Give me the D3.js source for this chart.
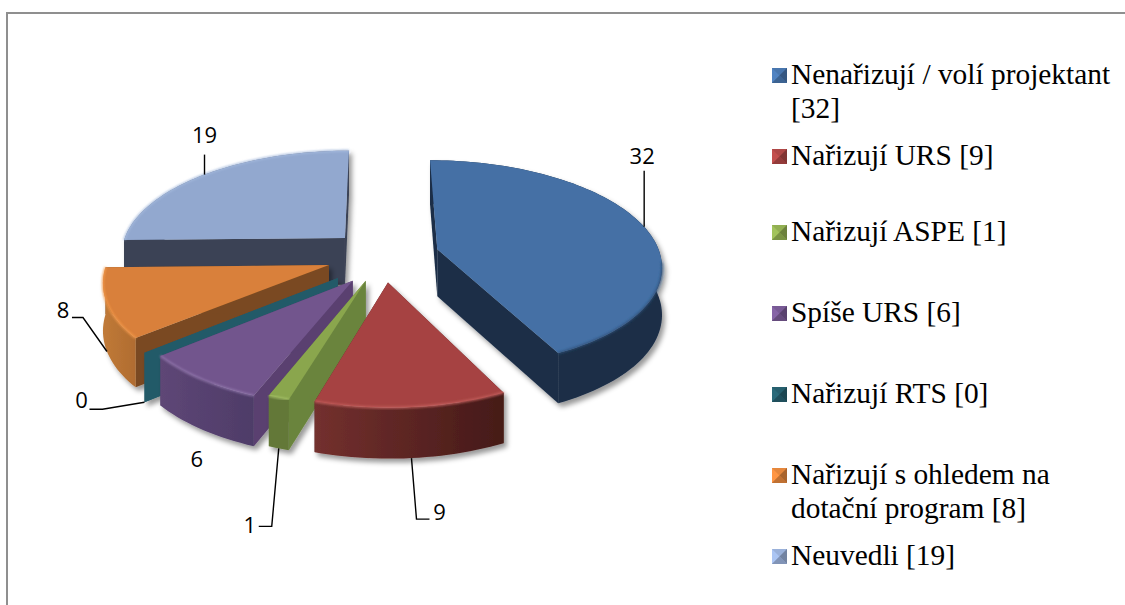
<!DOCTYPE html>
<html>
<head>
<meta charset="utf-8">
<script src="https://cdn.jsdelivr.net/npm/d3@7"></script>
<style>
  body { margin: 0; background: #fff; }
  svg { display: block; }
</style>
</head>
<body>
<div id="chart"></div>
<script>
// values
let categories = ["Nenařizují / volí projektant", "Nařizují URS", "Nařizují ASPE", "Spíše URS", "Nařizují RTS", "Nařizují s ohledem na dotační program", "Neuvedli"];
let values = [32, 9, 1, 6, 0, 8, 19];
let legendLines = [["Nenařizují / volí projektant", "[32]"], ["Nařizují URS [9]"], ["Nařizují ASPE [1]"], ["Spíše URS [6]"], ["Nařizují RTS [0]"], ["Nařizují s ohledem na", "dotační program [8]"], ["Neuvedli [19]"]];

// colours: top, cut faces, outer wall left/right, rim bevel
let topColors = ["#4470a5", "#a64342", "#8aa64e", "#72558d", "#245a68", "#d9803a", "#92a8cf"];
let cutColors = ["#1b2e47", "#5a2524", "#6b843e", "#5a4070", "#245a68", "#7a4a22", "#3b4254"];
let wallLeft = ["#1b2e47", "#73302e", "#637838", "#5e4676", "#245a68", "#c07a38", "#3b4254"];
let wallRight = ["#1b2e47", "#451a18", "#637838", "#4e3c68", "#245a68", "#b06c30", "#3b4254"];
let rimColors = ["#2f5078", "#c96462", "#a9c56c", "#9379ae", "#245a68", "#f49a4c", "#a6bbde"];

// how far each slice is pulled out of the pie, in pie radii (x, towards viewer)
let pullX = [0.268, 0.0446, -0.055, -0.113, -0.179, -0.2205, -0.15];
let pullZ = [-0.085, 0.235, 0.22, 0.22, 0.193, 0.068, -0.196];

// data label placement, relative to the rim at the middle of the slice
let labelDx = [-2, 28, -29, -4, -63, -44, 0];
let labelDy = [-71, 54, 77, 30, -2, -41, -39];
let leaders = [
  [[0, -56]],
  [[5, 61], [18, 61]],
  [[-7, 78], [-20, 78]],
  [],
  [[-42, 7], [-55, 7]],
  [[-24, -34], [-35, -34]],
  [[0, -20]]
];
let legendY = [84, 165, 241, 322, 403, 484, 565];

let cx = 378, cy = 258, R = 222, Ry = 103, persp = 0.14, depth = 47;

let svg = d3.select("#chart").append("svg")
  .attr("width", 1125)
  .attr("height", 605);

let defs = svg.append("defs");
let shadow = defs.append("filter").attr("id", "shadow")
  .attr("x", "-10%").attr("y", "-10%").attr("width", "125%").attr("height", "125%");
shadow.append("feDropShadow")
  .attr("dx", 3).attr("dy", 4).attr("stdDeviation", 2.5)
  .attr("flood-color", "#000").attr("flood-opacity", 0.4);
let soft = defs.append("filter").attr("id", "soft");
soft.append("feGaussianBlur").attr("stdDeviation", 0.9);

values.forEach((v, i) => {
  let g = defs.append("linearGradient").attr("id", "wall" + i);
  g.append("stop").attr("offset", "0%").attr("stop-color", wallLeft[i]);
  g.append("stop").attr("offset", "100%").attr("stop-color", wallRight[i]);
});

// frame
svg.append("path")
  .attr("d", "M7,605V13H1125")
  .attr("fill", "none")
  .attr("stroke", "#8f8f8f")
  .attr("stroke-width", 2);

// local pie point of slice i -> screen, with a bit of perspective
function project(i, lx, lz, h) {
  let w = 1 - persp * (lz + 0.3 * pullZ[i]);
  return [cx + R * (pullX[i] + lx) / w, cy + Ry * (pullZ[i] + lz) / w + depth * h / Math.sqrt(w)];
}

let pie = d3.pie().sort(null).value(d => d);
let arcs = pie(values);
let line = d3.line();

function rimPoints(a, i, h) {
  let n = Math.max(2, Math.ceil((a.endAngle - a.startAngle) / 0.03));
  return d3.range(n + 1).map(k => {
    let t = a.startAngle + (a.endAngle - a.startAngle) * k / n;
    return project(i, Math.sin(t), -Math.cos(t), h);
  });
}

function cutFace(angle, i) {
  let rx = Math.sin(angle), rz = -Math.cos(angle);
  return [project(i, 0, 0, 0), project(i, rx, rz, 0), project(i, rx, rz, 1), project(i, 0, 0, 1)];
}

// draw from the back to the front
let order = [6, 0, 5, 4, 3, 2, 1];
let slices = svg.selectAll("g.slice")
  .data(order)
  .join("g")
  .attr("class", "slice")
  .attr("filter", "url(#shadow)");

slices.each(function (i) {
  let a = arcs[i];
  let s = d3.select(this);
  let apex = project(i, 0, 0, 0);

  s.append("path")
    .attr("d", line(cutFace(a.startAngle, i)) + "Z")
    .attr("fill", cutColors[i]);
  s.append("path")
    .attr("d", line(cutFace(a.endAngle, i)) + "Z")
    .attr("fill", cutColors[i]);

  if (a.endAngle > a.startAngle) {
    let upper = rimPoints(a, i, 0);
    let lower = rimPoints(a, i, 1).reverse();
    s.append("path")
      .attr("d", line(upper.concat(lower)) + "Z")
      .attr("fill", "url(#wall" + i + ")");
    s.append("path")
      .attr("d", line([apex].concat(upper)) + "Z")
      .attr("fill", topColors[i]);
    // bevel along the rim, only the part facing the viewer on the blue slice
    let bevelPts = i == 0 ? upper.filter(p => p[1] > apex[1] + 12) : upper;
    s.append("path")
      .attr("d", line(bevelPts))
      .attr("fill", "none")
      .attr("stroke", rimColors[i])
      .attr("stroke-width", 1.8)
      .attr("filter", "url(#soft)");
  }
});

// data labels
arcs.forEach((a, i) => {
  let mid = (a.startAngle + a.endAngle) / 2;
  let front = Math.cos(mid) < -0.3 ? 1 : 0;
  let p = project(i, Math.sin(mid), -Math.cos(mid), front);

  if (leaders[i].length) {
    let pts = [p].concat(leaders[i].map(o => [p[0] + o[0], p[1] + o[1]]));
    svg.append("path")
      .attr("d", line(pts))
      .attr("fill", "none")
      .attr("stroke", "#000")
      .attr("stroke-width", 1.4);
  }
  svg.append("text")
    .attr("x", p[0] + labelDx[i])
    .attr("y", p[1] + labelDy[i])
    .attr("dy", "0.35em")
    .attr("text-anchor", "middle")
    .style("font-family", "'Open Sans', sans-serif")
    .style("font-size", "22px")
    .text(values[i]);
});

// legend
let legend = svg.selectAll("g.legend")
  .data(categories)
  .join("g")
  .attr("class", "legend")
  .attr("transform", (d, i) => "translate(772," + legendY[i] + ")");

let size = 15;
let mx = size / 2;
let bevel = [
  { pts: [[0, 0], [size, 0], [mx, mx]], k: 0.15 },
  { pts: [[0, 0], [0, size], [mx, mx]], k: 0.45 },
  { pts: [[size, 0], [size, size], [mx, mx]], k: -0.7 },
  { pts: [[0, size], [size, size], [mx, mx]], k: -0.35 }
];
legend.each(function (d, i) {
  let g = d3.select(this).append("g").attr("transform", "translate(0,-16)");
  g.append("rect")
    .attr("width", size)
    .attr("height", size)
    .attr("fill", topColors[i]);
  bevel.forEach(b => {
    g.append("path")
      .attr("d", line(b.pts) + "Z")
      .attr("fill", b.k >= 0 ? d3.color(topColors[i]).brighter(b.k) : d3.color(topColors[i]).darker(-b.k));
  });
  d3.select(this).selectAll("text.line")
    .data(legendLines[i])
    .join("text")
    .attr("class", "line")
    .attr("x", 19)
    .attr("y", (t, k) => k * 34)
    .style("font-family", "'Liberation Serif', serif")
    .style("font-size", "29.4px")
    .text(t => t);
});
</script>
</body>
</html>
